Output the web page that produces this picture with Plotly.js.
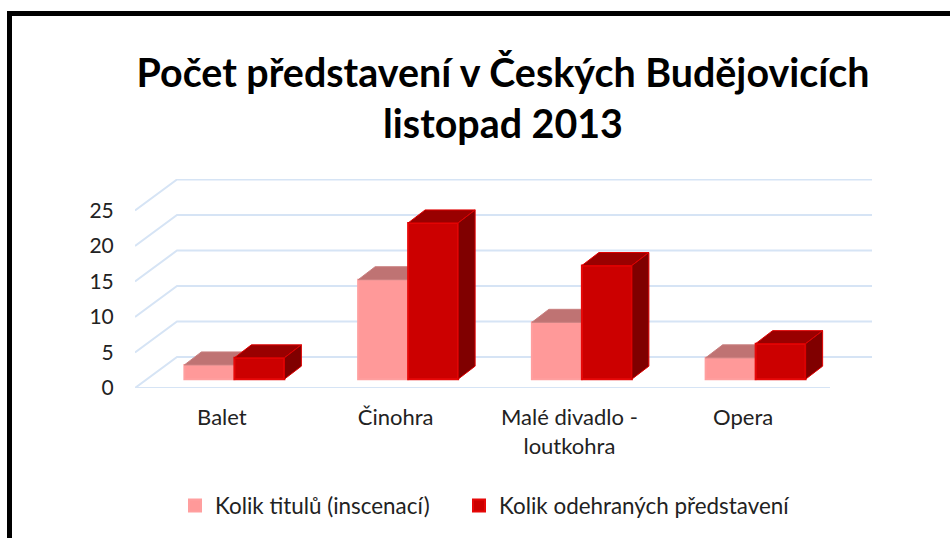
<!DOCTYPE html>
<html>
<head>
<meta charset="utf-8">
<script src="https://cdn.plot.ly/plotly-3.0.1.min.js"></script>
<style>html,body{margin:0;padding:0;background:#fff}#c{width:950px;height:538px}</style>
</head>
<body>
<div id="c"></div>
<script>
const categories = ['Balet', 'Činohra', 'Malé divadlo -<br>loutkohra', 'Opera'];
const seriesNames = ['Kolik titulů (inscenací)', 'Kolik odehraných představení'];
const tituly = [2, 14, 8, 3];
const predstaveni = [3, 22, 16, 5];
const yTicks = [0, 5, 10, 15, 20, 25];
const titleLines = ['Počet představení v Českých Budějovicích', 'listopad 2013'];

const W = 950, H = 538;
const L = 135, R = 872, B = 388, T = 179;
const catPx = 173.75, valPx = 7.1;
const wallDx = 42 / catPx, wallDy = 31 / valPx;   // depth of the floor
const barDx = 17 / catPx, barDy = 13 / valPx;     // depth of a bar
const barBase = 1.25, barW = 50 / catPx;
const off0 = -37.5 / catPx;
const xs = categories.map((_, i) => i);
const xRange = [-0.5, -0.5 + (R - L) / catPx];
const yRange = [0, (B - T) / valPx];

const gridColor = '#d6e4f5', labelColor = '#222';
const font = 'Lato, Carlito, "Open Sans", sans-serif';

function gridTrace() {
  const x = [], y = [];
  yTicks.forEach(t => {
    x.push(-0.5, -0.5 + wallDx, xRange[1], null);
    y.push(t, t + wallDy, t + wallDy, null);
  });
  x.push(-0.5, 3.5); y.push(0, 0);
  return {type:'scatter', mode:'lines', x, y, xaxis:'x', yaxis:'y', hoverinfo:'skip', showlegend:false,
          line:{color:gridColor, width:2}};
}
function face(px, py, color, ax, edge) {
  return {type:'scatter', mode:'lines', x:px, y:py, fill:'toself', fillcolor:color, hoverinfo:'skip', showlegend:false,
          line:{color:edge, width:1}, xaxis:ax[0], yaxis:ax[1]};
}
function bar(vals, name, offset, color, edge, ax, legendId) {
  return {type:'bar', name, x:xs, y:vals, base:barBase, offset, width:barW, xaxis:ax[0], yaxis:ax[1], legend:legendId,
          marker:{color, line:{color:edge, width:2}}};
}
function topFaces(vals, offset, color, edge, ax) {
  const x = [], y = [];
  vals.forEach((v, i) => {
    const a = i + offset, b = a + barW, t = v + barBase;
    x.push(a, b, b + barDx, a + barDx, a, null);
    y.push(t, t, t + barDy, t + barDy, t, null);
  });
  return face(x, y, color, ax, edge);
}
function sideFaces(vals, offset, color, edge, ax) {
  const x = [], y = [];
  vals.forEach((v, i) => {
    const b = i + offset + barW, t = v + barBase;
    x.push(b, b + barDx, b + barDx, b, b, null);
    y.push(barBase, barBase + barDy, t + barDy, t, barBase, null);
  });
  return face(x, y, color, ax, edge);
}

const off1 = off0 + barW;
const a1 = ['x2', 'y2'], a2 = ['x3', 'y3'];
const data = [
  gridTrace(),
  bar(tituly, seriesNames[0], off0, '#ff9999', '#ff9f9f', a1, 'legend'),
  topFaces(tituly, off0, '#bf7373', '#c98080', a1),
  bar(predstaveni, seriesNames[1], off1, '#cc0000', '#e60808', a2, 'legend2'),
  topFaces(predstaveni, off1, '#990000', '#e00000', a2),
  sideFaces(predstaveni, off1, '#800000', '#e00000', a2)
];

const legendBase = {orientation: 'h', xref: 'container', y: 1 - 506 / H, yref: 'container', yanchor: 'middle', xanchor: 'left',
  font: {family: font, size: 22.4, color: labelColor}, itemclick: false, itemdoubleclick: false, bgcolor: 'rgba(0,0,0,0)'};

const layout = {
  width: W, height: H, autosize: false,
  paper_bgcolor: '#fff', plot_bgcolor: 'rgba(0,0,0,0)',
  margin: {l: L, r: W - R, t: T, b: H - B},
  font: {family: font, size: 22, color: labelColor},
  barmode: 'overlay',
  showlegend: true,
  xaxis: {range: xRange, tickmode: 'array', tickvals: xs, ticktext: categories,
          showgrid: false, zeroline: false, showline: false, ticks: 'outside', ticklen: 10, tickcolor: 'rgba(0,0,0,0)',
          tickfont: {family: font, size: 22, color: labelColor}},
  yaxis: {range: yRange, tickmode: 'array', tickvals: yTicks, showgrid: false, zeroline: false, showline: false,
          ticks: 'outside', ticklen: 16, tickcolor: 'rgba(0,0,0,0)',
          tickfont: {family: font, size: 21, color: labelColor}},
  xaxis2: {range: xRange, overlaying: 'x', anchor: 'y2', visible: false},
  yaxis2: {range: yRange, overlaying: 'y', anchor: 'x2', visible: false},
  xaxis3: {range: xRange, overlaying: 'x', anchor: 'y3', visible: false},
  yaxis3: {range: yRange, overlaying: 'y', anchor: 'x3', visible: false},
  title: {text: titleLines.join('<br>'), font: {family: font, size: 39.4, color: '#000', weight: 700},
          x: 503 / W, xanchor: 'center', y: 1 - 87 / H, yanchor: 'middle'},
  legend: Object.assign({}, legendBase, {x: 175 / W}),
  legend2: Object.assign({}, legendBase, {x: 459 / W}),
  shapes: [
    {type: 'path', xref: 'paper', yref: 'paper', layer: 'above',
     path: 'M ' + (9.5 - L) / (R - L) + ' ' + ((B - 560) / (B - T)) + ' L ' + (9.5 - L) / (R - L) + ' ' + ((B - 13.5) / (B - T)) +
           ' L ' + (1000 - L) / (R - L) + ' ' + ((B - 13.5) / (B - T)),
     line: {color: '#000', width: 5}}
  ]
};
Plotly.newPlot('c', data, layout, {displayModeBar: false, staticPlot: true});
</script>
</body>
</html>
